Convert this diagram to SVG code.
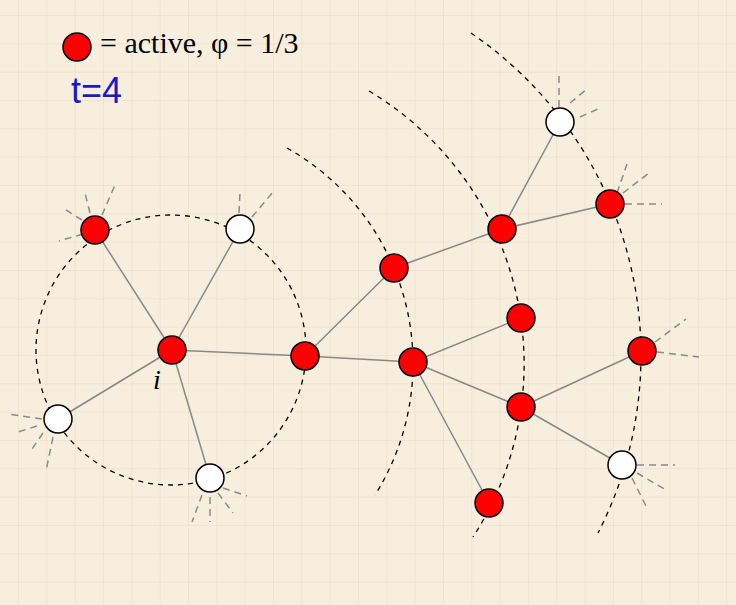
<svg xmlns="http://www.w3.org/2000/svg" width="736" height="605" viewBox="0 0 736 605">
  <defs>
    <pattern id="grid" patternUnits="userSpaceOnUse" x="18" y="15" width="28.33" height="28.33">
      <path d="M0,0 H28.33 M0,0 V28.33" fill="none" stroke="#e6dac3" stroke-width="1"/>
    </pattern>
    <style>
      .arc { fill: none; stroke: #000; stroke-width: 1.3; stroke-dasharray: 5 5; }
      .edge { stroke: #888; stroke-width: 1.5; fill: none; }
      .stub { stroke: #8a8a8a; stroke-width: 1.5; stroke-dasharray: 7 5; fill: none; }
      .act { fill: #ff0000; stroke: #000; stroke-width: 1.5; }
      .ina { fill: #ffffff; stroke: #000; stroke-width: 1.5; }
      .legend { font-family: "Liberation Serif", "Times New Roman", serif; font-size: 30px; fill: #000; }
      .time { font-family: "Liberation Sans", Arial, sans-serif; font-size: 36px; fill: #1a1ac8; }
      .lab { font-family: "Liberation Serif", "Times New Roman", serif; font-style: italic; font-size: 28px; fill: #000; }
    </style>
  </defs>
  <rect x="0" y="0" width="736" height="605" fill="#f8eedd"/>
  <rect x="0" y="0" width="736" height="605" fill="url(#grid)"/>

  <g id="legend">
    <circle class="act" cx="77" cy="47" r="14"/>
    <text class="legend" x="100" y="53">= active, φ = 1/3</text>
    <text class="time" x="71" y="103">t=4</text>
  </g>

  <g id="shells">
    <circle class="arc" cx="171" cy="350" r="135"/>
    <path class="arc" d="M287,148 A247,247 0 0 1 375,495"/>
    <path class="arc" d="M369,91 A318,318 0 0 1 473,537"/>
    <path class="arc" d="M471,33 A390,390 0 0 1 598,533"/>
  </g>

  <g id="connectors">
    <line class="edge" x1="172" y1="350" x2="95" y2="230"/>
    <line class="edge" x1="172" y1="350" x2="240" y2="229"/>
    <line class="edge" x1="172" y1="350" x2="58" y2="419"/>
    <line class="edge" x1="172" y1="350" x2="210" y2="478"/>
    <line class="edge" x1="172" y1="350" x2="305" y2="356"/>
    <line class="edge" x1="305" y1="356" x2="394" y2="268"/>
    <line class="edge" x1="305" y1="356" x2="413" y2="362"/>
    <line class="edge" x1="394" y1="268" x2="502" y2="229"/>
    <line class="edge" x1="502" y1="229" x2="560" y2="122"/>
    <line class="edge" x1="502" y1="229" x2="610" y2="204"/>
    <line class="edge" x1="413" y1="362" x2="521" y2="318"/>
    <line class="edge" x1="413" y1="362" x2="521" y2="407"/>
    <line class="edge" x1="413" y1="362" x2="489" y2="503"/>
    <line class="edge" x1="521" y1="407" x2="642" y2="351"/>
    <line class="edge" x1="521" y1="407" x2="622" y2="465"/>
  </g>

  <g id="stubs">
    <line class="stub" x1="90" y1="213" x2="85" y2="193"/>
    <line class="stub" x1="102" y1="215" x2="115" y2="185"/>
    <line class="stub" x1="82" y1="220" x2="63" y2="208"/>
    <line class="stub" x1="83" y1="234" x2="59" y2="241"/>
    <line class="stub" x1="239" y1="213" x2="240" y2="192"/>
    <line class="stub" x1="252" y1="217" x2="273" y2="192"/>
    <line class="stub" x1="42" y1="419" x2="7" y2="414"/>
    <line class="stub" x1="37" y1="426" x2="15" y2="433"/>
    <line class="stub" x1="43" y1="433" x2="30" y2="452"/>
    <line class="stub" x1="53" y1="437" x2="46" y2="471"/>
    <line class="stub" x1="202" y1="495" x2="192" y2="522"/>
    <line class="stub" x1="210" y1="497" x2="210" y2="522"/>
    <line class="stub" x1="218" y1="493" x2="233" y2="513"/>
    <line class="stub" x1="223" y1="488" x2="247" y2="496"/>
    <line class="stub" x1="559" y1="107" x2="559" y2="72"/>
    <line class="stub" x1="570" y1="103" x2="587" y2="89"/>
    <line class="stub" x1="580" y1="117" x2="598" y2="109"/>
    <line class="stub" x1="617" y1="193" x2="627" y2="164"/>
    <line class="stub" x1="623" y1="193" x2="649" y2="173"/>
    <line class="stub" x1="625" y1="204" x2="662" y2="204"/>
    <line class="stub" x1="655" y1="342" x2="686" y2="319"/>
    <line class="stub" x1="657" y1="352" x2="699" y2="357"/>
    <line class="stub" x1="637" y1="465" x2="675" y2="465"/>
    <line class="stub" x1="637" y1="473" x2="668" y2="491"/>
    <line class="stub" x1="632" y1="478" x2="648" y2="510"/>
  </g>

  <g id="node-a"><circle class="act" cx="95" cy="230" r="14"/></g>
  <g id="node-b"><circle class="ina" cx="240" cy="229" r="14"/></g>
  <g id="node-i"><circle class="act" cx="172" cy="350" r="14"/><text class="lab" x="153" y="389">i</text></g>
  <g id="node-c"><circle class="ina" cx="58" cy="419" r="14"/></g>
  <g id="node-d"><circle class="ina" cx="210" cy="478" r="14"/></g>
  <g id="node-e"><circle class="act" cx="305" cy="356" r="14"/></g>
  <g id="node-f"><circle class="act" cx="394" cy="268" r="14"/></g>
  <g id="node-g"><circle class="act" cx="413" cy="362" r="14"/></g>
  <g id="node-h"><circle class="act" cx="502" cy="229" r="14"/></g>
  <g id="node-j"><circle class="ina" cx="560" cy="122" r="14"/></g>
  <g id="node-k"><circle class="act" cx="610" cy="204" r="14"/></g>
  <g id="node-l"><circle class="act" cx="521" cy="318" r="14"/></g>
  <g id="node-m"><circle class="act" cx="521" cy="407" r="14"/></g>
  <g id="node-n"><circle class="act" cx="489" cy="503" r="14"/></g>
  <g id="node-o"><circle class="act" cx="642" cy="351" r="14"/></g>
  <g id="node-p"><circle class="ina" cx="622" cy="465" r="14"/></g>
</svg>
